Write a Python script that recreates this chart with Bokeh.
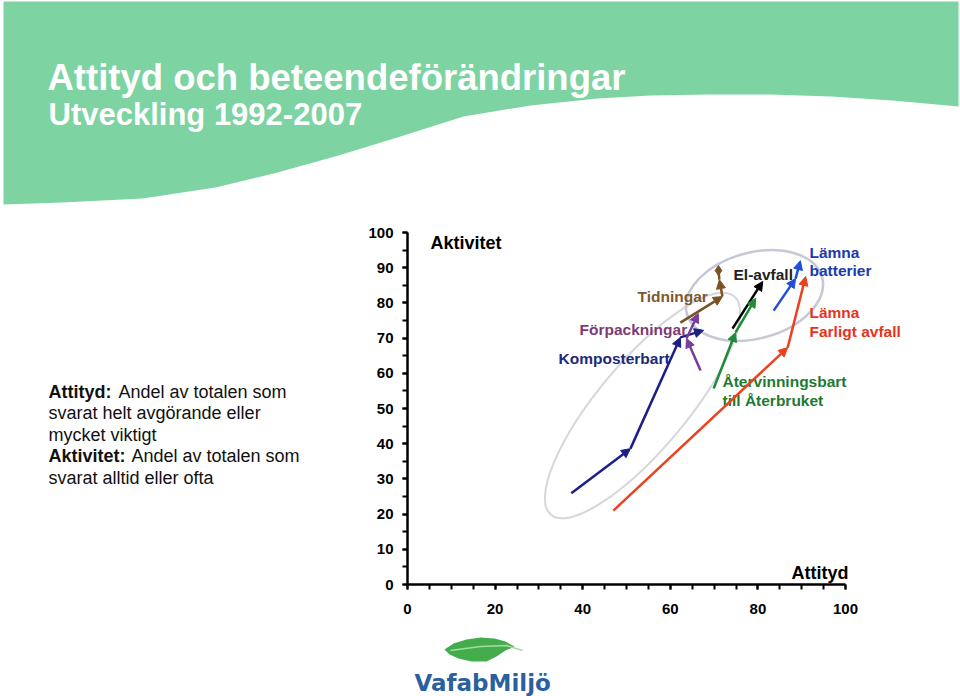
import math
from bokeh.plotting import figure
from bokeh.models import Range1d, LinearAxis, FixedTicker, Arrow, NormalHead
from bokeh.core.properties import value
from bokeh.embed import file_html
from bokeh.resources import INLINE

# ---------------- data (Attityd %, Aktivitet %) ----------------
komposterbart_x = [37.4, 50.9, 62.3, 67.6]
komposterbart_y = [25.9, 38.6, 70.2, 72.2]
forpackningar_x = [66.9, 63.7, 66.4]
forpackningar_y = [60.8, 69.9, 77.0]
tidningar_x = [62.3, 71.9, 71.2, 71.0]
tidningar_y = [74.4, 81.8, 86.6, 89.2]
elavfall_x = [74.2, 81.1]
elavfall_y = [72.7, 86.1]
atervinning_x = [69.9, 74.9, 79.5]
atervinning_y = [55.7, 71.6, 81.3]
batterier_x = [83.6, 88.6, 89.7]
batterier_y = [77.8, 86.9, 92.0]
farligt_x = [47.0, 86.8, 90.9]
farligt_y = [21.0, 67.3, 87.5]

y_ticks = [0, 10, 20, 30, 40, 50, 60, 70, 80, 90, 100]
x_ticks = [0, 20, 40, 60, 80, 100]
minor_ticks = list(range(0, 101, 5))

# ---------------- layout (pixel placement of the axes) ----------------
W, H = 960, 696
X0, X100 = 407.0, 845.0
Y0, Y100 = 584.0, 232.0
KX = (X100 - X0) / 100.0
KY = (Y0 - Y100) / 100.0


def dx(px):
    return (px - X0) / KX


def dy(py):
    return (Y0 - py) / KY


p = figure(width=W, height=H, x_range=Range1d(dx(0), dx(W)), y_range=Range1d(dy(H), dy(0)),
           x_axis_type=None, y_axis_type=None, toolbar_location=None,
           output_backend="svg", min_border=0, outline_line_color=None,
           background_fill_color="white", border_fill_color="white")
p.xgrid.visible = False
p.ygrid.visible = False

FONT = value("Liberation Sans")
TFONT = value("DejaVu Sans")

# ---------------- header band ----------------
hdr_px = [(3, 1), (958, 1), (958, 106), (892, 100), (831, 96), (769, 94), (708, 94), (650, 95),
          (597, 98), (530, 105), (463, 116), (400, 136), (338, 155), (277, 172), (215, 187),
          (142, 198), (62, 202), (3, 204)]
p.patch([dx(a) for a, b in hdr_px], [dy(b) for a, b in hdr_px],
        fill_color="#7dd3a1", line_color=None)
p.text(x=[dx(47)], y=[dy(77)], text=["Attityd och beteendeförändringar"],
       text_font=FONT, text_font_style="bold", text_font_size="36.5px",
       text_color="white", text_baseline="alphabetic", text_align="left")
p.text(x=[dx(48)], y=[dy(114)], text=["Utveckling 1992-2007"],
       text_font=FONT, text_font_style="bold", text_font_size="31px",
       text_color="white", text_baseline="alphabetic", text_align="left")

# ---------------- left explanation text ----------------
left_lines = [
    (48, 391, "Attityd:", "bold"), (118, 391, "Andel av totalen som", "normal"),
    (48, 412.5, "svarat helt avgörande eller", "normal"),
    (48, 434, "mycket viktigt", "normal"),
    (48, 455.5, "Aktivitet:", "bold"), (131, 455.5, "Andel av totalen som", "normal"),
    (48, 477, "svarat alltid eller ofta", "normal"),
]
for lx, ly, t, st in left_lines:
    p.text(x=[dx(lx)], y=[dy(ly)], text=[t], text_font=FONT, text_font_style=st,
           text_font_size="18px", text_color="#111111", text_baseline="alphabetic",
           text_align="left")

# ---------------- axes ----------------
yaxis = LinearAxis(fixed_location=0, bounds=(0, 100),
                   ticker=FixedTicker(ticks=y_ticks, minor_ticks=minor_ticks))
xaxis = LinearAxis(fixed_location=0, bounds=(0, 100),
                   ticker=FixedTicker(ticks=x_ticks, minor_ticks=minor_ticks))
for ax in (yaxis, xaxis):
    ax.axis_line_width = 2.5
    ax.axis_line_color = "black"
    ax.major_tick_line_width = 2
    ax.minor_tick_line_width = 2
    ax.major_tick_out = 5
    ax.major_tick_in = 0
    ax.minor_tick_out = 5
    ax.minor_tick_in = 0
    ax.major_label_text_font = "Liberation Sans"
    ax.major_label_text_font_style = "bold"
    ax.major_label_text_font_size = "15px"
    ax.major_label_text_color = "black"
yaxis.major_label_standoff = 9
xaxis.major_label_standoff = 14
p.add_layout(yaxis, "left")
p.add_layout(xaxis, "below")

p.text(x=[dx(430)], y=[dy(242)], text=["Aktivitet"], text_font=FONT, text_font_style="bold",
       text_font_size="18px", text_color="black", text_baseline="middle", text_align="left")
p.text(x=[dx(848)], y=[dy(572)], text=["Attityd"], text_font=FONT, text_font_style="bold",
       text_font_size="18px", text_color="black", text_baseline="middle", text_align="right")

# ---------------- grouping ellipses ----------------
p.ellipse(x=[dx(642)], y=[dy(405)], width=285, height=88, angle=math.radians(50),
          width_units="screen", height_units="screen",
          fill_color=None, line_color="#d6d6dc", line_width=2)
p.ellipse(x=[dx(754)], y=[dy(295)], width=140, height=86, angle=math.radians(15),
          width_units="screen", height_units="screen",
          fill_color=None, line_color="#c6c8d8", line_width=2.5)

# ---------------- arrows ----------------
series = [
    (komposterbart_x, komposterbart_y, "#1c1f86", True),
    (forpackningar_x, forpackningar_y, "#7a3c9e", True),
    (tidningar_x, tidningar_y, "#7a5224", False),
    (elavfall_x, elavfall_y, "#000000", True),
    (atervinning_x, atervinning_y, "#1f8a3a", True),
    (batterier_x, batterier_y, "#1f4fd8", True),
    (farligt_x, farligt_y, "#ea411e", True),
]
for xs, ys, col, last_head in series:
    n = len(xs)
    for i in range(n - 1):
        head = NormalHead(size=9, fill_color=col, line_color=col, line_width=1)
        if i == n - 2 and not last_head:
            head = None
        p.add_layout(Arrow(x_start=xs[i], y_start=ys[i], x_end=xs[i + 1], y_end=ys[i + 1],
                           end=head, line_color=col, line_width=2.5))
p.scatter([tidningar_x[-1]], [tidningar_y[-1]], marker="diamond", size=10,
          fill_color="#7a5224", line_color="#7a5224")

# ---------------- series labels ----------------
labels = [
    (637, 296, "Tidningar", "#7b5a2e"),
    (579, 329, "Förpackningar", "#7d3b75"),
    (558, 358, "Komposterbart", "#1c2a7a"),
    (733, 274, "El-avfall", "#222222"),
    (809, 252, "Lämna", "#2038b0"),
    (809, 270, "batterier", "#2038b0"),
    (809, 312, "Lämna", "#e8331c"),
    (809, 331, "Farligt avfall", "#e8331c"),
    (722, 381, "Återvinningsbart", "#1e7a32"),
    (722, 400, "till Återbruket", "#1e7a32"),
]
for lx, ly, t, col in labels:
    p.text(x=[dx(lx)], y=[dy(ly)], text=[t], text_font=FONT, text_font_style="bold",
           text_font_size="15.5px", text_color=col, text_baseline="middle", text_align="left")

# ---------------- logo ----------------
leaf_px = [(444, 649), (453, 643), (466, 639), (480, 637), (494, 638), (505, 641), (514, 646),
           (505, 650), (496, 656), (486, 661), (471, 661), (458, 658), (449, 654)]
p.patch([dx(a) for a, b in leaf_px], [dy(b) for a, b in leaf_px],
        fill_color="#43ad4c", line_color=None)
p.line([dx(450), dx(480), dx(506), dx(522)], [dy(650), dy(646), dy(645), dy(650)],
       line_color="#a5dba8", line_width=1.5)
p.text(x=[dx(414)], y=[dy(682)], text=["VafabMiljö"], text_font=TFONT, text_font_style="bold",
       text_font_size="23px", text_color="#2b5f9e", text_baseline="alphabetic", text_align="left")

open("out.html", "w").write(file_html(p, INLINE))
